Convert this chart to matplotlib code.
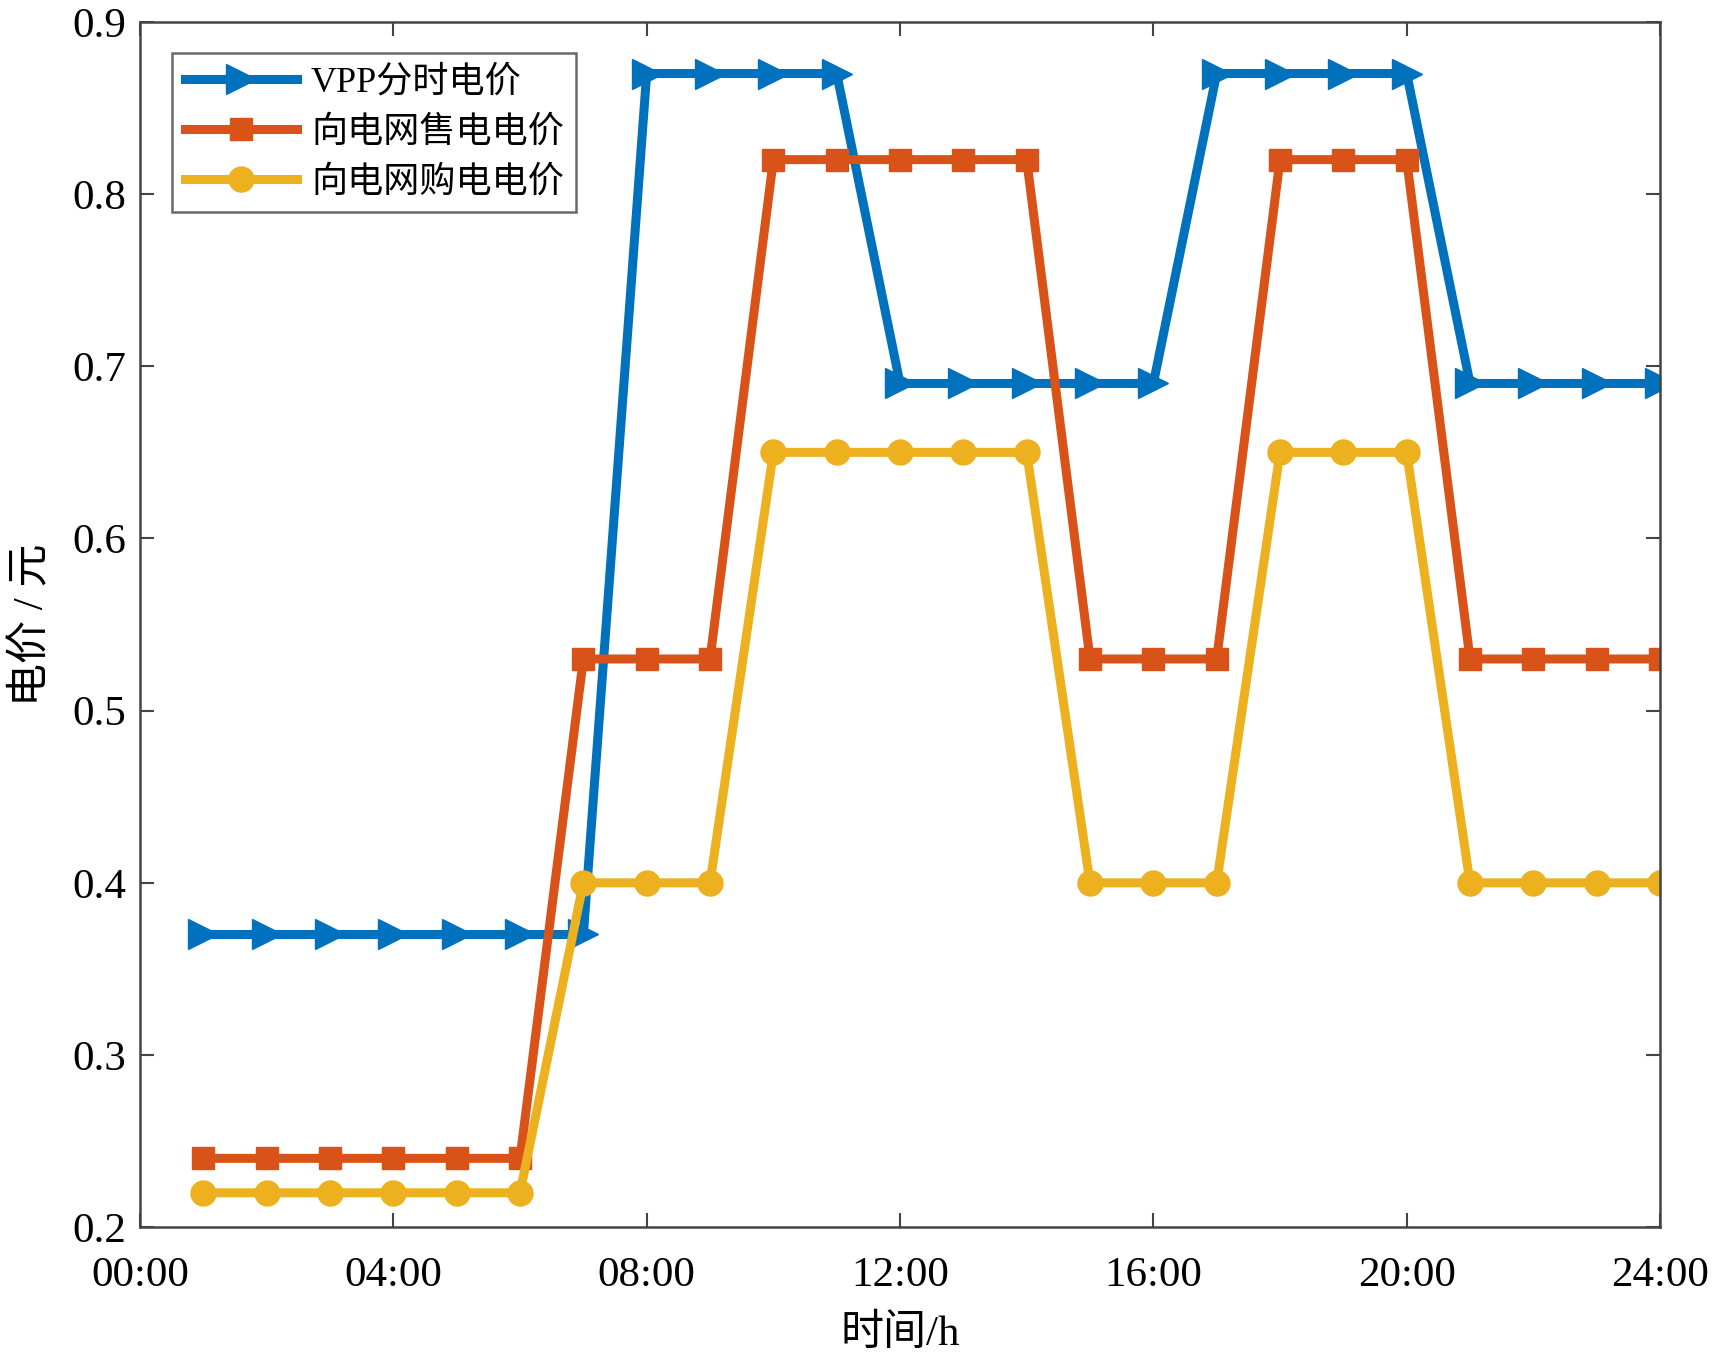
import numpy as np
import matplotlib.pyplot as plt

hours = np.arange(1, 25)
vpp_price = [0.37] * 7 + [0.87] * 4 + [0.69] * 5 + [0.87] * 4 + [0.69] * 4
sell_price = [0.24] * 6 + [0.53] * 3 + [0.82] * 5 + [0.53] * 3 + [0.82] * 3 + [0.53] * 4
buy_price = [0.22] * 6 + [0.40] * 3 + [0.65] * 5 + [0.40] * 3 + [0.65] * 3 + [0.40] * 4
xticks = [0, 4, 8, 12, 16, 20, 24]
xticklabels = ["00:00", "04:00", "08:00", "12:00", "16:00", "20:00", "24:00"]
labels = ["VPP分时电价", "向电网售电电价", "向电网购电电价"]

plt.rcParams["font.family"] = ["Liberation Serif", "Noto Sans CJK SC"]

fig = plt.figure(figsize=(17.14, 13.58), dpi=100)
ax = fig.add_axes([0.0817, 0.0963, 0.8868, 0.8876])

ax.plot(hours, vpp_price, color="#0072BD", lw=6.5, marker=">", ms=22, label=labels[0])
ax.plot(hours, sell_price, color="#D95319", lw=6.5, marker="s", ms=16, label=labels[1])
ax.plot(hours, buy_price, color="#EDB120", lw=6.5, marker="o", ms=18, label=labels[2])

ax.set_xlim(0, 24)
ax.set_ylim(0.2, 0.9)
ax.set_xticks(xticks)
ax.set_xticklabels(xticklabels)
ax.set_yticks(np.arange(0.2, 0.91, 0.1))
ax.set_yticklabels(["0.2", "0.3", "0.4", "0.5", "0.6", "0.7", "0.8", "0.9"])
ax.tick_params(direction="in", length=10, width=1.5, color="#444444",
               labelsize=31, top=True, right=True, pad=10)
ax.tick_params(axis="x", pad=21)
for s in ax.spines.values():
    s.set_color("#444444")
    s.set_linewidth(1.8)

ax.set_xlabel("时间/h", fontsize=31, labelpad=14)
ax.set_ylabel("电价 / 元", fontsize=31, labelpad=14)

leg = ax.legend(loc="upper left", bbox_to_anchor=(0.021, 0.974), borderaxespad=0,
                fontsize=26, frameon=True, fancybox=False, edgecolor="#444444",
                handlelength=3.1, borderpad=0.35, labelspacing=0.45, handletextpad=0.4)
leg.get_frame().set_linewidth(1.8)

fig.savefig("out.png", dpi=100)
